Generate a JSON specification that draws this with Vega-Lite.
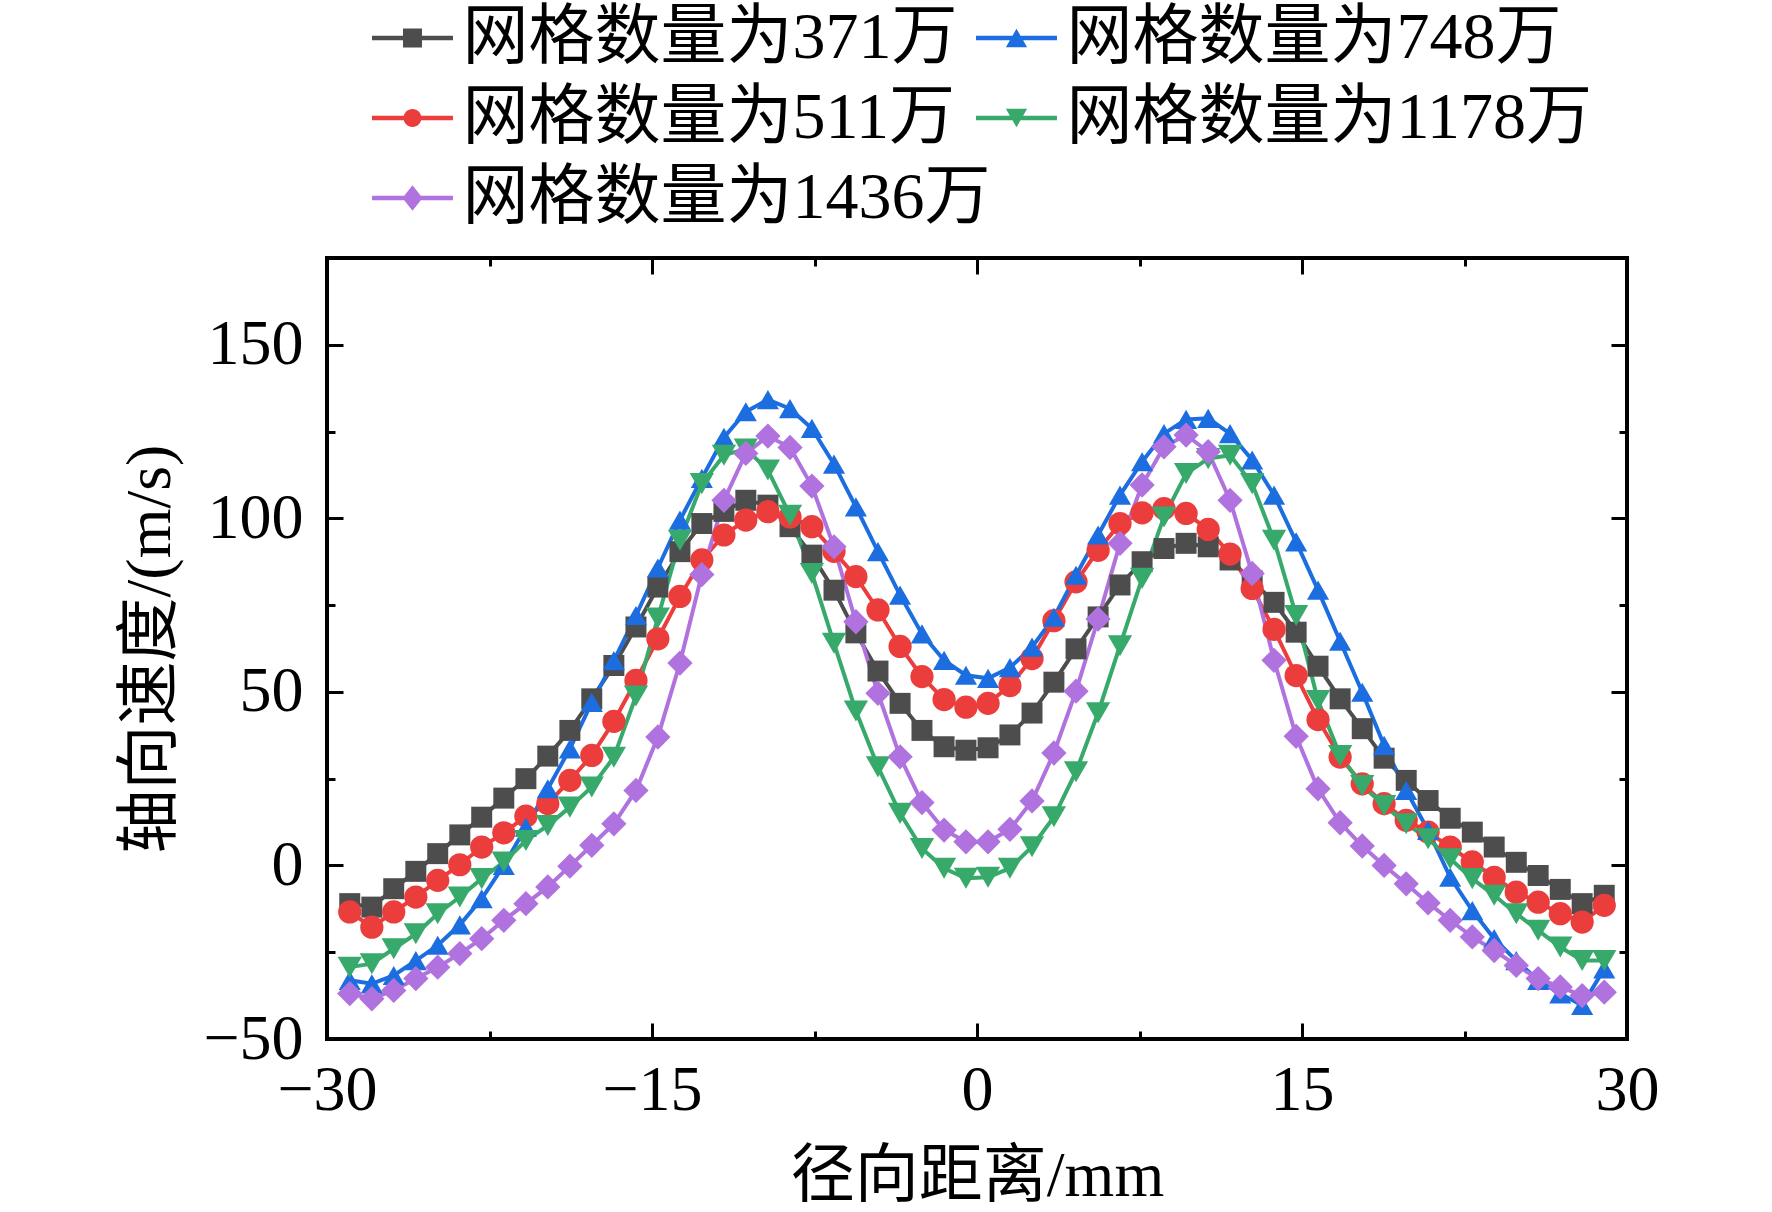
{
  "$schema": "https://vega.github.io/schema/vega-lite/v6.json",
  "width": 1300,
  "height": 781,
  "autosize": {"type": "none"},
  "padding": {"left": 327, "top": 258, "right": 145, "bottom": 173},
  "background": "white",
  "config": {
    "view": {"stroke": "black", "strokeWidth": 4},
    "axis": {"domain": false, "grid": false, "tickColor": "black", "tickWidth": 3, "labelFont": "Liberation Serif", "labelFontSize": 64, "labelColor": "black", "titleFont": "Liberation Serif, Noto Sans CJK SC", "titleFontSize": 64, "titleFontWeight": "normal", "titleColor": "black", "labelFlush": false}
  },
  "data": {"values": [
    {"grid":"网格数量为371万","r":-28.95,"v":-11.0},{"grid":"网格数量为371万","r":-27.93,"v":-12.0},{"grid":"网格数量为371万","r":-26.92,"v":-6.7},{"grid":"网格数量为371万","r":-25.90,"v":-1.7},{"grid":"网格数量为371万","r":-24.89,"v":3.4},{"grid":"网格数量为371万","r":-23.87,"v":8.8},{"grid":"网格数量为371万","r":-22.86,"v":13.9},{"grid":"网格数量为371万","r":-21.84,"v":19.4},{"grid":"网格数量为371万","r":-20.82,"v":25.0},{"grid":"网格数量为371万","r":-19.81,"v":31.5},
    {"grid":"网格数量为371万","r":-18.79,"v":38.9},{"grid":"网格数量为371万","r":-17.78,"v":48.0},{"grid":"网格数量为371万","r":-16.76,"v":57.6},{"grid":"网格数量为371万","r":-15.74,"v":68.7},{"grid":"网格数量为371万","r":-14.73,"v":80.2},{"grid":"网格数量为371万","r":-13.71,"v":90.4},{"grid":"网格数量为371万","r":-12.70,"v":98.5},{"grid":"网格数量为371万","r":-11.68,"v":102.0},{"grid":"网格数量为371万","r":-10.67,"v":105.2},{"grid":"网格数量为371万","r":-9.65,"v":103.8},
    {"grid":"网格数量为371万","r":-8.63,"v":97.6},{"grid":"网格数量为371万","r":-7.62,"v":89.4},{"grid":"网格数量为371万","r":-6.60,"v":79.3},{"grid":"网格数量为371万","r":-5.59,"v":67.0},{"grid":"网格数量为371万","r":-4.57,"v":56.0},{"grid":"网格数量为371万","r":-3.55,"v":46.7},{"grid":"网格数量为371万","r":-2.54,"v":38.9},{"grid":"网格数量为371万","r":-1.52,"v":34.2},{"grid":"网格数量为371万","r":-0.51,"v":33.2},{"grid":"网格数量为371万","r":0.51,"v":33.9},
    {"grid":"网格数量为371万","r":1.52,"v":37.6},{"grid":"网格数量为371万","r":2.54,"v":43.9},{"grid":"网格数量为371万","r":3.55,"v":52.8},{"grid":"网格数量为371万","r":4.57,"v":62.4},{"grid":"网格数量为371万","r":5.59,"v":71.6},{"grid":"网格数量为371万","r":6.60,"v":80.8},{"grid":"网格数量为371万","r":7.62,"v":87.5},{"grid":"网格数量为371万","r":8.63,"v":91.3},{"grid":"网格数量为371万","r":9.65,"v":92.8},{"grid":"网格数量为371万","r":10.67,"v":91.8},
    {"grid":"网格数量为371万","r":11.68,"v":88.0},{"grid":"网格数量为371万","r":12.70,"v":82.0},{"grid":"网格数量为371万","r":13.71,"v":75.8},{"grid":"网格数量为371万","r":14.73,"v":67.2},{"grid":"网格数量为371万","r":15.74,"v":57.4},{"grid":"网格数量为371万","r":16.76,"v":48.0},{"grid":"网格数量为371万","r":17.78,"v":39.4},{"grid":"网格数量为371万","r":18.79,"v":30.9},{"grid":"网格数量为371万","r":19.81,"v":24.5},{"grid":"网格数量为371万","r":20.82,"v":18.7},
    {"grid":"网格数量为371万","r":21.84,"v":13.6},{"grid":"网格数量为371万","r":22.86,"v":9.6},{"grid":"网格数量为371万","r":23.87,"v":5.3},{"grid":"网格数量为371万","r":24.89,"v":0.9},{"grid":"网格数量为371万","r":25.90,"v":-2.9},{"grid":"网格数量为371万","r":26.92,"v":-6.9},{"grid":"网格数量为371万","r":27.93,"v":-11.0},{"grid":"网格数量为371万","r":28.95,"v":-8.6},

    {"grid":"网格数量为511万","r":-28.95,"v":-13.4},{"grid":"网格数量为511万","r":-27.93,"v":-17.8},{"grid":"网格数量为511万","r":-26.92,"v":-13.4},{"grid":"网格数量为511万","r":-25.90,"v":-9.1},{"grid":"网格数量为511万","r":-24.89,"v":-4.3},{"grid":"网格数量为511万","r":-23.87,"v":0.2},{"grid":"网格数量为511万","r":-22.86,"v":5.3},{"grid":"网格数量为511万","r":-21.84,"v":9.4},{"grid":"网格数量为511万","r":-20.82,"v":14.2},{"grid":"网格数量为511万","r":-19.81,"v":17.8},
    {"grid":"网格数量为511万","r":-18.79,"v":24.5},{"grid":"网格数量为511万","r":-17.78,"v":31.7},{"grid":"网格数量为511万","r":-16.76,"v":41.5},{"grid":"网格数量为511万","r":-15.74,"v":53.3},{"grid":"网格数量为511万","r":-14.73,"v":65.3},{"grid":"网格数量为511万","r":-13.71,"v":77.5},{"grid":"网格数量为511万","r":-12.70,"v":88.0},{"grid":"网格数量为511万","r":-11.68,"v":95.2},{"grid":"网格数量为511万","r":-10.67,"v":99.5},{"grid":"网格数量为511万","r":-9.65,"v":101.9},
    {"grid":"网格数量为511万","r":-8.63,"v":100.4},{"grid":"网格数量为511万","r":-7.62,"v":97.6},{"grid":"网格数量为511万","r":-6.60,"v":90.5},{"grid":"网格数量为511万","r":-5.59,"v":83.2},{"grid":"网格数量为511万","r":-4.57,"v":73.6},{"grid":"网格数量为511万","r":-3.55,"v":63.1},{"grid":"网格数量为511万","r":-2.54,"v":54.4},{"grid":"网格数量为511万","r":-1.52,"v":47.8},{"grid":"网格数量为511万","r":-0.51,"v":45.6},{"grid":"网格数量为511万","r":0.51,"v":46.7},
    {"grid":"网格数量为511万","r":1.52,"v":51.8},{"grid":"网格数量为511万","r":2.54,"v":59.6},{"grid":"网格数量为511万","r":3.55,"v":70.5},{"grid":"网格数量为511万","r":4.57,"v":81.7},{"grid":"网格数量为511万","r":5.59,"v":90.8},{"grid":"网格数量为511万","r":6.60,"v":98.5},{"grid":"网格数量为511万","r":7.62,"v":101.6},{"grid":"网格数量为511万","r":8.63,"v":102.8},{"grid":"网格数量为511万","r":9.65,"v":101.4},{"grid":"网格数量为511万","r":10.67,"v":96.8},
    {"grid":"网格数量为511万","r":11.68,"v":89.7},{"grid":"网格数量为511万","r":12.70,"v":79.8},{"grid":"网格数量为511万","r":13.71,"v":68.0},{"grid":"网格数量为511万","r":14.73,"v":54.7},{"grid":"网格数量为511万","r":15.74,"v":42.0},{"grid":"网格数量为511万","r":16.76,"v":31.2},{"grid":"网格数量为511万","r":17.78,"v":23.5},{"grid":"网格数量为511万","r":18.79,"v":17.8},{"grid":"网格数量为511万","r":19.81,"v":13.0},{"grid":"网格数量为511万","r":20.82,"v":9.6},
    {"grid":"网格数量为511万","r":21.84,"v":5.3},{"grid":"网格数量为511万","r":22.86,"v":1.0},{"grid":"网格数量为511万","r":23.87,"v":-3.4},{"grid":"网格数量为511万","r":24.89,"v":-7.7},{"grid":"网格数量为511万","r":25.90,"v":-10.6},{"grid":"网格数量为511万","r":26.92,"v":-13.9},{"grid":"网格数量为511万","r":27.93,"v":-16.3},{"grid":"网格数量为511万","r":28.95,"v":-11.5},

    {"grid":"网格数量为748万","r":-28.95,"v":-33.1},{"grid":"网格数量为748万","r":-27.93,"v":-34.1},{"grid":"网格数量为748万","r":-26.92,"v":-31.7},{"grid":"网格数量为748万","r":-25.90,"v":-27.4},{"grid":"网格数量为748万","r":-24.89,"v":-23.0},{"grid":"网格数量为748万","r":-23.87,"v":-17.1},{"grid":"网格数量为748万","r":-22.86,"v":-9.6},{"grid":"网格数量为748万","r":-21.84,"v":0.0},{"grid":"网格数量为748万","r":-20.82,"v":11.0},{"grid":"网格数量为748万","r":-19.81,"v":22.1},
    {"grid":"网格数量为748万","r":-18.79,"v":33.6},{"grid":"网格数量为748万","r":-17.78,"v":47.0},{"grid":"网格数量为748万","r":-16.76,"v":59.0},{"grid":"网格数量为748万","r":-15.74,"v":72.0},{"grid":"网格数量为748万","r":-14.73,"v":85.7},{"grid":"网格数量为748万","r":-13.71,"v":99.5},{"grid":"网格数量为748万","r":-12.70,"v":111.5},{"grid":"网格数量为748万","r":-11.68,"v":123.3},{"grid":"网格数量为748万","r":-10.67,"v":130.7},{"grid":"网格数量为748万","r":-9.65,"v":134.2},
    {"grid":"网格数量为748万","r":-8.63,"v":131.6},{"grid":"网格数量为748万","r":-7.62,"v":125.9},{"grid":"网格数量为748万","r":-6.60,"v":115.6},{"grid":"网格数量为748万","r":-5.59,"v":103.3},{"grid":"网格数量为748万","r":-4.57,"v":90.4},{"grid":"网格数量为748万","r":-3.55,"v":77.9},{"grid":"网格数量为748万","r":-2.54,"v":66.7},{"grid":"网格数量为748万","r":-1.52,"v":59.1},{"grid":"网格数量为748万","r":-0.51,"v":54.8},{"grid":"网格数量为748万","r":0.51,"v":53.9},
    {"grid":"网格数量为748万","r":1.52,"v":57.0},{"grid":"网格数量为748万","r":2.54,"v":62.9},{"grid":"网格数量为748万","r":3.55,"v":71.5},{"grid":"网格数量为748万","r":4.57,"v":83.6},{"grid":"网格数量为748万","r":5.59,"v":95.2},{"grid":"网格数量为748万","r":6.60,"v":106.7},{"grid":"网格数量为748万","r":7.62,"v":116.3},{"grid":"网格数量为748万","r":8.63,"v":124.4},{"grid":"网格数量为748万","r":9.65,"v":128.5},{"grid":"网格数量为748万","r":10.67,"v":128.8},
    {"grid":"网格数量为748万","r":11.68,"v":124.4},{"grid":"网格数量为748万","r":12.70,"v":116.8},{"grid":"网格数量为748万","r":13.71,"v":106.7},{"grid":"网格数量为748万","r":14.73,"v":93.2},{"grid":"网格数量为748万","r":15.74,"v":79.3},{"grid":"网格数量为748万","r":16.76,"v":64.6},{"grid":"网格数量为748万","r":17.78,"v":49.9},{"grid":"网格数量为748万","r":18.79,"v":34.6},{"grid":"网格数量为748万","r":19.81,"v":21.6},{"grid":"网格数量为748万","r":20.82,"v":10.1},
    {"grid":"网格数量为748万","r":21.84,"v":-3.4},{"grid":"网格数量为748万","r":22.86,"v":-13.0},{"grid":"网格数量为748万","r":23.87,"v":-21.1},{"grid":"网格数量为748万","r":24.89,"v":-27.4},{"grid":"网格数量为748万","r":25.90,"v":-33.1},{"grid":"网格数量为748万","r":26.92,"v":-37.0},{"grid":"网格数量为748万","r":27.93,"v":-40.3},{"grid":"网格数量为748万","r":28.95,"v":-29.8},

    {"grid":"网格数量为1178万","r":-28.95,"v":-29.3},{"grid":"网格数量为1178万","r":-27.93,"v":-28.3},{"grid":"网格数量为1178万","r":-26.92,"v":-24.0},{"grid":"网格数量为1178万","r":-25.90,"v":-19.7},{"grid":"网格数量为1178万","r":-24.89,"v":-13.9},{"grid":"网格数量为1178万","r":-23.87,"v":-9.1},{"grid":"网格数量为1178万","r":-22.86,"v":-3.8},{"grid":"网格数量为1178万","r":-21.84,"v":1.0},{"grid":"网格数量为1178万","r":-20.82,"v":7.2},{"grid":"网格数量为1178万","r":-19.81,"v":11.5},
    {"grid":"网格数量为1178万","r":-18.79,"v":16.8},{"grid":"网格数量为1178万","r":-17.78,"v":22.6},{"grid":"网格数量为1178万","r":-16.76,"v":31.2},{"grid":"网格数量为1178万","r":-15.74,"v":48.8},{"grid":"网格数量为1178万","r":-14.73,"v":71.3},{"grid":"网格数量为1178万","r":-13.71,"v":93.7},{"grid":"网格数量为1178万","r":-12.70,"v":110.0},{"grid":"网格数量为1178万","r":-11.68,"v":118.2},{"grid":"网格数量为1178万","r":-10.67,"v":120.0},{"grid":"网格数量为1178万","r":-9.65,"v":113.9},
    {"grid":"网格数量为1178万","r":-8.63,"v":100.9},{"grid":"网格数量为1178万","r":-7.62,"v":84.1},{"grid":"网格数量为1178万","r":-6.60,"v":64.0},{"grid":"网格数量为1178万","r":-5.59,"v":44.5},{"grid":"网格数量为1178万","r":-4.57,"v":28.4},{"grid":"网格数量为1178万","r":-3.55,"v":15.0},{"grid":"网格数量为1178万","r":-2.54,"v":4.9},{"grid":"网格数量为1178万","r":-1.52,"v":-0.8},{"grid":"网格数量为1178万","r":-0.51,"v":-3.7},{"grid":"网格数量为1178万","r":0.51,"v":-3.4},
    {"grid":"网格数量为1178万","r":1.52,"v":-0.8},{"grid":"网格数量为1178万","r":2.54,"v":5.4},{"grid":"网格数量为1178万","r":3.55,"v":14.0},{"grid":"网格数量为1178万","r":4.57,"v":27.0},{"grid":"网格数量为1178万","r":5.59,"v":44.0},{"grid":"网格数量为1178万","r":6.60,"v":63.3},{"grid":"网格数量为1178万","r":7.62,"v":82.7},{"grid":"网格数量为1178万","r":8.63,"v":100.4},{"grid":"网格数量为1178万","r":9.65,"v":112.9},{"grid":"网格数量为1178万","r":10.67,"v":117.2},
    {"grid":"网格数量为1178万","r":11.68,"v":118.2},{"grid":"网格数量为1178万","r":12.70,"v":110.0},{"grid":"网格数量为1178万","r":13.71,"v":93.7},{"grid":"网格数量为1178万","r":14.73,"v":72.0},{"grid":"网格数量为1178万","r":15.74,"v":47.5},{"grid":"网格数量为1178万","r":16.76,"v":31.7},{"grid":"网格数量为1178万","r":17.78,"v":23.0},{"grid":"网格数量为1178万","r":18.79,"v":17.3},{"grid":"网格数量为1178万","r":19.81,"v":12.0},{"grid":"网格数量为1178万","r":20.82,"v":7.7},
    {"grid":"网格数量为1178万","r":21.84,"v":1.9},{"grid":"网格数量为1178万","r":22.86,"v":-3.8},{"grid":"网格数量为1178万","r":23.87,"v":-8.6},{"grid":"网格数量为1178万","r":24.89,"v":-13.9},{"grid":"网格数量为1178万","r":25.90,"v":-18.7},{"grid":"网格数量为1178万","r":26.92,"v":-23.5},{"grid":"网格数量为1178万","r":27.93,"v":-27.4},{"grid":"网格数量为1178万","r":28.95,"v":-27.4},

    {"grid":"网格数量为1436万","r":-28.95,"v":-36.9},{"grid":"网格数量为1436万","r":-27.93,"v":-38.4},{"grid":"网格数量为1436万","r":-26.92,"v":-36.0},{"grid":"网格数量为1436万","r":-25.90,"v":-32.6},{"grid":"网格数量为1436万","r":-24.89,"v":-29.3},{"grid":"网格数量为1436万","r":-23.87,"v":-25.4},{"grid":"网格数量为1436万","r":-22.86,"v":-21.1},{"grid":"网格数量为1436万","r":-21.84,"v":-15.8},{"grid":"网格数量为1436万","r":-20.82,"v":-11.0},{"grid":"网格数量为1436万","r":-19.81,"v":-6.2},
    {"grid":"网格数量为1436万","r":-18.79,"v":-0.2},{"grid":"网格数量为1436万","r":-17.78,"v":5.8},{"grid":"网格数量为1436万","r":-16.76,"v":12.0},{"grid":"网格数量为1436万","r":-15.74,"v":21.6},{"grid":"网格数量为1436万","r":-14.73,"v":37.0},{"grid":"网格数量为1436万","r":-13.71,"v":58.3},{"grid":"网格数量为1436万","r":-12.70,"v":83.8},{"grid":"网格数量为1436万","r":-11.68,"v":105.2},{"grid":"网格数量为1436万","r":-10.67,"v":118.7},{"grid":"网格数量为1436万","r":-9.65,"v":123.7},
    {"grid":"网格数量为1436万","r":-8.63,"v":120.4},{"grid":"网格数量为1436万","r":-7.62,"v":109.3},{"grid":"网格数量为1436万","r":-6.60,"v":91.8},{"grid":"网格数量为1436万","r":-5.59,"v":70.2},{"grid":"网格数量为1436万","r":-4.57,"v":49.6},{"grid":"网格数量为1436万","r":-3.55,"v":31.3},{"grid":"网格数量为1436万","r":-2.54,"v":18.1},{"grid":"网格数量为1436万","r":-1.52,"v":10.2},{"grid":"网格数量为1436万","r":-0.51,"v":6.8},{"grid":"网格数量为1436万","r":0.51,"v":6.8},
    {"grid":"网格数量为1436万","r":1.52,"v":10.4},{"grid":"网格数量为1436万","r":2.54,"v":18.6},{"grid":"网格数量为1436万","r":3.55,"v":32.4},{"grid":"网格数量为1436万","r":4.57,"v":50.2},{"grid":"网格数量为1436万","r":5.59,"v":71.0},{"grid":"网格数量为1436万","r":6.60,"v":92.8},{"grid":"网格数量为1436万","r":7.62,"v":109.6},{"grid":"网格数量为1436万","r":8.63,"v":120.6},{"grid":"网格数量为1436万","r":9.65,"v":124.0},{"grid":"网格数量为1436万","r":10.67,"v":119.2},
    {"grid":"网格数量为1436万","r":11.68,"v":105.2},{"grid":"网格数量为1436万","r":12.70,"v":84.1},{"grid":"网格数量为1436万","r":13.71,"v":59.1},{"grid":"网格数量为1436万","r":14.73,"v":37.2},{"grid":"网格数量为1436万","r":15.74,"v":22.1},{"grid":"网格数量为1436万","r":16.76,"v":12.3},{"grid":"网格数量为1436万","r":17.78,"v":5.6},{"grid":"网格数量为1436万","r":18.79,"v":0.0},{"grid":"网格数量为1436万","r":19.81,"v":-5.3},{"grid":"网格数量为1436万","r":20.82,"v":-10.8},
    {"grid":"网格数量为1436万","r":21.84,"v":-15.8},{"grid":"网格数量为1436万","r":22.86,"v":-20.6},{"grid":"网格数量为1436万","r":23.87,"v":-24.5},{"grid":"网格数量为1436万","r":24.89,"v":-28.8},{"grid":"网格数量为1436万","r":25.90,"v":-32.6},{"grid":"网格数量为1436万","r":26.92,"v":-35.0},{"grid":"网格数量为1436万","r":27.93,"v":-37.5},{"grid":"网格数量为1436万","r":28.95,"v":-36.5}
  ]},
  "layer": [
    {
      "transform": [{"filter": "false"}],
      "mark": {"type": "point", "filled": true, "opacity": 1},
      "encoding": {
        "x": {"field": "r", "type": "quantitative", "axis": null},
        "y": {"field": "v", "type": "quantitative", "axis": null},
        "color": {"field": "grid", "type": "nominal",
          "scale": {"domain": ["网格数量为371万", "网格数量为511万", "网格数量为1436万", "网格数量为748万", "网格数量为1178万"], "range": ["#4d4d4d", "#ec3d3d", "#b072de", "#1c6ee0", "#37aa6b"]},
          "legend": {
            "title": null, "orient": "none", "legendX": 22, "legendY": -253,
            "columns": 2, "gridAlign": "none", "columnPadding": -38, "rowPadding": 14,
            "symbolOffset": 30.5, "labelOffset": 17, "symbolSize": 500, "symbolOpacity": 1, "symbolStrokeWidth": 0,
            "labelFont": "Liberation Serif, Noto Sans CJK SC", "labelFontSize": 66, "labelColor": "black", "labelLimit": 2000, "labelBaseline": "middle",
            "padding": 0, "offset": 0
          }},
        "shape": {"field": "grid", "type": "nominal",
          "scale": {"domain": ["网格数量为371万", "网格数量为511万", "网格数量为1436万", "网格数量为748万", "网格数量为1178万"],
            "range": [
              "M-3.62,-0.2H3.62V0.2H-3.62ZM-0.85,-0.85H0.85V0.85H-0.85Z",
              "M-3.62,-0.2H3.62V0.2H-3.62ZM-0.8,0A0.8,0.8,0,1,1,0.8,0A0.8,0.8,0,1,1,-0.8,0Z",
              "M-3.62,-0.2H3.62V0.2H-3.62ZM0,-1.15L0.9,0L0,1.15L-0.9,0Z",
              "M-3.62,-0.2H3.62V0.2H-3.62ZM0,-0.82L0.95,0.82L-0.95,0.82Z",
              "M-3.62,-0.2H3.62V0.2H-3.62ZM-0.95,-0.82L0.95,-0.82L0,0.82Z"
            ]},
          "legend": {
            "title": null, "orient": "none", "legendX": 22, "legendY": -253,
            "columns": 2, "gridAlign": "none", "columnPadding": -38, "rowPadding": 14,
            "symbolOffset": 30.5, "labelOffset": 17, "symbolSize": 500, "symbolOpacity": 1, "symbolStrokeWidth": 0,
            "labelFont": "Liberation Serif, Noto Sans CJK SC", "labelFontSize": 66, "labelColor": "black", "labelLimit": 2000, "labelBaseline": "middle",
            "padding": 0, "offset": 0
          }}
      }
    },
    {
      "mark": {"type": "line", "strokeWidth": 4},
      "encoding": {
        "x": {"field": "r", "type": "quantitative", "scale": {"domain": [-30, 30], "nice": false, "zero": false},
          "axis": {"orient": "bottom", "values": [-30, -15, 0, 15, 30], "tickSize": -16, "labelPadding": 35, "title": "径向距离/mm", "titlePadding": 22}},
        "y": {"field": "v", "type": "quantitative", "scale": {"domain": [-50, 175], "nice": false, "zero": false},
          "axis": {"orient": "left", "values": [-50, 0, 50, 100, 150], "tickSize": -16, "labelPadding": 40, "title": "轴向速度/(m/s)", "titlePadding": 20}},
        "stroke": {"field": "grid", "type": "nominal",
          "scale": {"domain": ["网格数量为371万", "网格数量为511万", "网格数量为748万", "网格数量为1178万", "网格数量为1436万"], "range": ["#4d4d4d", "#ec3d3d", "#1c6ee0", "#37aa6b", "#b072de"]},
          "legend": null}
      }
    },
    {
      "mark": {"type": "point", "filled": true, "opacity": 1, "strokeWidth": 0},
      "encoding": {
        "x": {"field": "r", "type": "quantitative",
          "axis": {"orient": "bottom", "values": [-22.5, -7.5, 7.5, 22.5], "tickSize": -8, "labels": false, "title": null}},
        "y": {"field": "v", "type": "quantitative",
          "axis": {"orient": "left", "values": [-25, 25, 75, 125], "tickSize": -8, "labels": false, "title": null}},
        "color": {"field": "grid", "type": "nominal",
          "scale": {"domain": ["网格数量为371万", "网格数量为748万", "网格数量为511万", "网格数量为1178万", "网格数量为1436万"], "range": ["#4d4d4d", "#1c6ee0", "#ec3d3d", "#37aa6b", "#b072de"]},
          "legend": null},
        "shape": {"field": "grid", "type": "nominal",
          "scale": {"domain": ["网格数量为371万", "网格数量为748万", "网格数量为511万", "网格数量为1178万", "网格数量为1436万"], "range": ["square", "triangle-up", "circle", "triangle-down", "diamond"]},
          "legend": null},
        "size": {"field": "grid", "type": "nominal",
          "scale": {"domain": ["网格数量为371万", "网格数量为748万", "网格数量为511万", "网格数量为1178万", "网格数量为1436万"], "range": [440, 640, 480, 640, 600]},
          "legend": null}
      }
    },
    {
      "mark": {"type": "point", "opacity": 0},
      "encoding": {
        "x": {"field": "r", "type": "quantitative",
          "axis": {"orient": "top", "values": [-30, -15, 0, 15, 30], "tickSize": -16, "labels": false, "title": null}},
        "y": {"field": "v", "type": "quantitative",
          "axis": {"orient": "right", "values": [-50, 0, 50, 100, 150], "tickSize": -16, "labels": false, "title": null}}
      }
    },
    {
      "mark": {"type": "point", "opacity": 0},
      "encoding": {
        "x": {"field": "r", "type": "quantitative",
          "axis": {"orient": "top", "values": [-22.5, -7.5, 7.5, 22.5], "tickSize": -8, "labels": false, "title": null}},
        "y": {"field": "v", "type": "quantitative",
          "axis": {"orient": "right", "values": [-25, 25, 75, 125], "tickSize": -8, "labels": false, "title": null}}
      }
    }
  ],
  "resolve": {
    "scale": {"color": "independent", "shape": "independent"},
    "axis": {"x": "independent", "y": "independent"}
  }
}
